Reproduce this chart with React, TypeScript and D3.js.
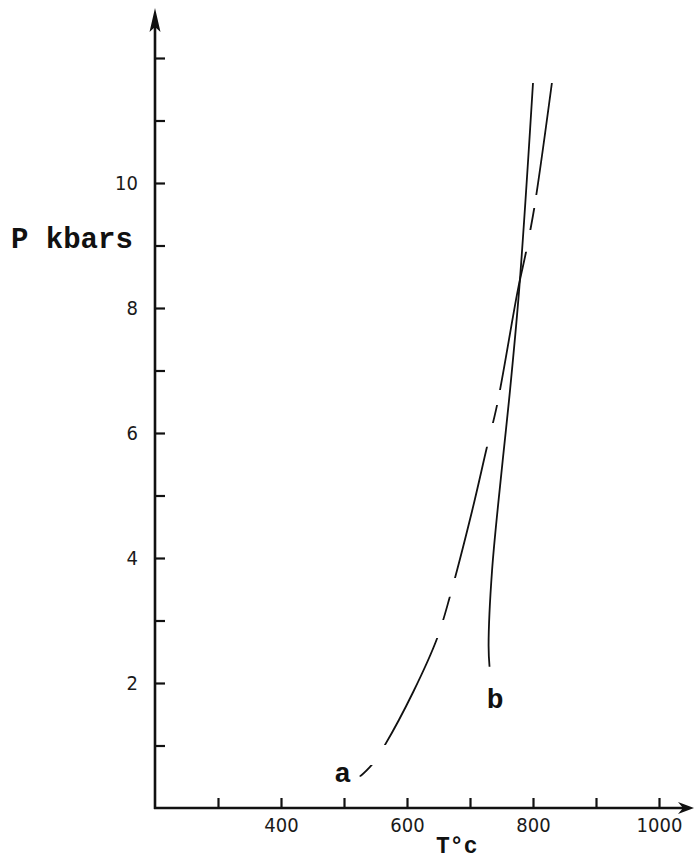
import { useRef, useEffect } from 'react';
import * as d3 from 'd3';

// curve a (T °C, P kbar)
const aT = [525, 544, 565, 610, 648, 668, 703, 727, 743, 776, 789, 802, 830];
const aP = [0.5, 0.69, 1.01, 1.86, 2.72, 3.38, 4.74, 5.78, 6.45, 8.29, 8.9, 9.6, 11.6];
// P ranges where curve a is drawn (rest are gaps)
const aSolid: [number, number][] = [
  [0.5, 0.69], [1.01, 2.72], [3.01, 3.38], [3.68, 5.78],
  [6.16, 6.45], [6.69, 8.9], [9.25, 9.6], [9.81, 11.6],
];

// curve b
const bT = [731, 729.5, 735, 752, 762, 778, 800];
const bP = [2.26, 2.6, 3.8, 5.57, 6.53, 8.29, 11.6];

const xTicks = [300, 400, 500, 600, 700, 800, 900, 1000];
const xLabels = [400, 600, 800, 1000];
const yTicks = [1, 2, 3, 4, 5, 6, 7, 8, 9, 10, 11, 12];
const yLabels = [2, 4, 6, 8, 10];

const W = 694;
const H = 862;

export default function App() {
  const svgRef = useRef<SVGSVGElement | null>(null);

  useEffect(() => {
    if (!svgRef.current) return;
    const svg = d3.select(svgRef.current);
    svg.selectAll('*').remove();

    const x = d3.scaleLinear().domain([200, 1000]).range([155, 659]);
    const y = d3.scaleLinear().domain([0, 12]).range([808, 58]);

    const tickFont = '"DejaVu Sans Condensed", "DejaVu Sans", sans-serif';
    const monoFont = '"Liberation Mono", "DejaVu Sans Mono", monospace';

    // axes
    const yAxis = svg.append('g')
      .attr('transform', `translate(${x(200)},0)`)
      .call(
        d3.axisLeft(y)
          .tickValues(yTicks)
          .tickSizeInner(-10)
          .tickSizeOuter(0)
          .tickPadding(17)
          .tickFormat((d) => (yLabels.includes(+d) ? String(d) : ''))
      );
    yAxis.select('.domain').remove();
    yAxis.selectAll('line').attr('stroke', '#111').attr('stroke-width', 2.2);
    yAxis.selectAll('text')
      .attr('font-family', tickFont)
      .attr('font-size', 20)
      .attr('fill', '#1a1a1a');

    const xAxis = svg.append('g')
      .attr('transform', `translate(0,${y(0)})`)
      .call(
        d3.axisBottom(x)
          .tickValues(xTicks)
          .tickSizeInner(-10)
          .tickSizeOuter(0)
          .tickPadding(10)
          .tickFormat((d) => (xLabels.includes(+d) ? String(d) : ''))
      );
    xAxis.select('.domain').remove();
    xAxis.selectAll('line').attr('stroke', '#111').attr('stroke-width', 2.2);
    xAxis.selectAll('text')
      .attr('font-family', tickFont)
      .attr('font-size', 20)
      .attr('fill', '#1a1a1a');

    // axis lines with arrows
    const x0 = x(200);
    const y0 = y(0);
    svg.append('line')
      .attr('x1', x0).attr('y1', y0 + 1).attr('x2', x0).attr('y2', 24)
      .attr('stroke', '#111').attr('stroke-width', 2.6);
    svg.append('path')
      .attr('d', `M${x0},8 L${x0 - 5.5},32 L${x0},27 L${x0 + 5.5},32 Z`)
      .attr('fill', '#111');

    svg.append('line')
      .attr('x1', x0 - 1).attr('y1', y0).attr('x2', 685).attr('y2', y0)
      .attr('stroke', '#111').attr('stroke-width', 2.6);
    svg.append('path')
      .attr('d', `M694,${y0} L678,${y0 - 6} L683,${y0} L678,${y0 + 6} Z`)
      .attr('fill', '#111');

    // curves
    const line = d3.line<[number, number]>()
      .x((d) => x(d[0]))
      .y((d) => y(d[1]))
      .curve(d3.curveCatmullRom.alpha(0.5));

    const clip = svg.append('defs').append('clipPath').attr('id', 'a-solid');
    aSolid.forEach(([p0, p1]) => {
      clip.append('rect')
        .attr('x', 0).attr('width', W)
        .attr('y', y(p1)).attr('height', y(p0) - y(p1));
    });

    svg.append('path')
      .datum(aT.map((t, i) => [t, aP[i]] as [number, number]))
      .attr('clip-path', 'url(#a-solid)')
      .attr('fill', 'none')
      .attr('stroke', '#111')
      .attr('stroke-width', 1.8)
      .attr('d', line);

    svg.append('path')
      .datum(bT.map((t, i) => [t, bP[i]] as [number, number]))
      .attr('fill', 'none')
      .attr('stroke', '#111')
      .attr('stroke-width', 1.8)
      .attr('d', line);

    // labels
    svg.append('text')
      .attr('x', x(498)).attr('y', y(0.58))
      .attr('dy', '0.35em')
      .attr('text-anchor', 'middle')
      .attr('font-family', monoFont).attr('font-weight', 'bold')
      .attr('font-size', 28).attr('fill', '#111')
      .text('a');
    svg.append('text')
      .attr('x', x(740)).attr('y', y(1.76))
      .attr('dy', '0.35em')
      .attr('text-anchor', 'middle')
      .attr('font-family', monoFont).attr('font-weight', 'bold')
      .attr('font-size', 28).attr('fill', '#111')
      .text('b');

    svg.append('text')
      .attr('x', 11).attr('y', 248)
      .attr('font-family', monoFont).attr('font-weight', 'bold')
      .attr('font-size', 29).attr('fill', '#111')
      .text('P kbars');

    svg.append('text')
      .attr('x', x(679)).attr('y', 853)
      .attr('text-anchor', 'middle')
      .attr('font-family', monoFont).attr('font-weight', 'bold')
      .attr('font-size', 23).attr('fill', '#111')
      .text('T°c');
  }, []);

  return (
    <svg
      ref={svgRef}
      width={W}
      height={H}
      style={{ position: 'absolute', left: 0, top: 0, background: '#fff' }}
    />
  );
}
